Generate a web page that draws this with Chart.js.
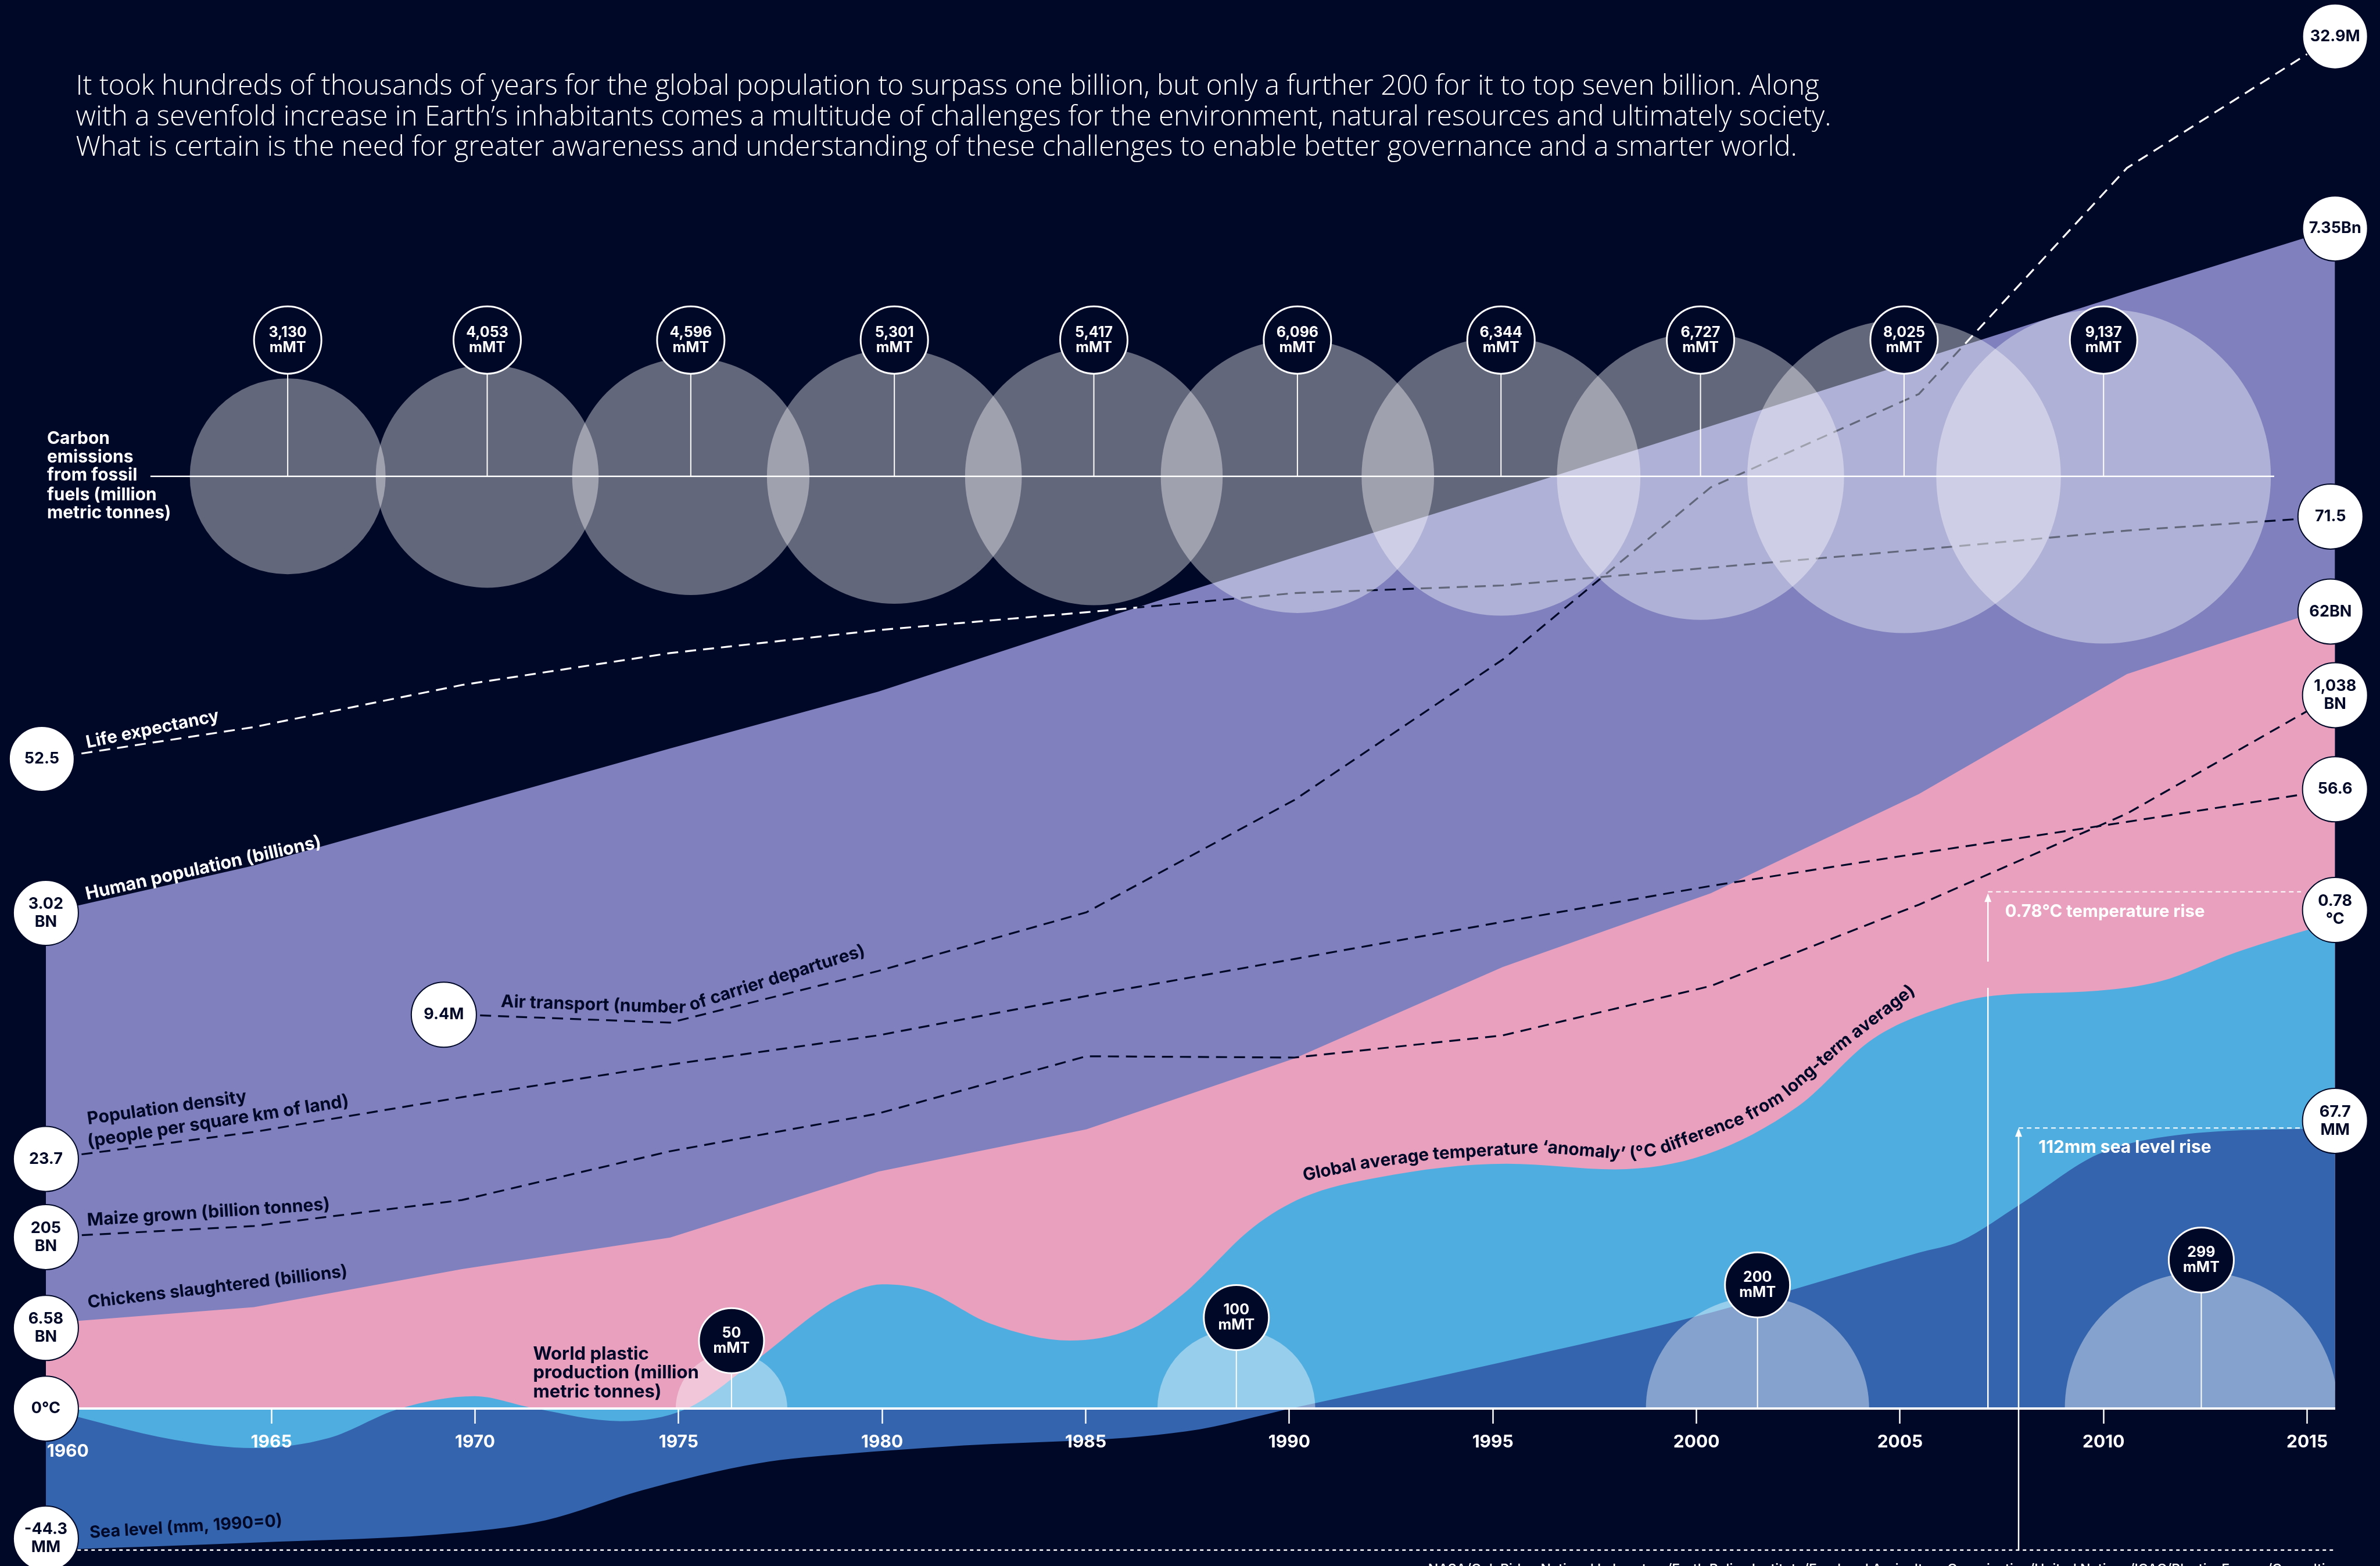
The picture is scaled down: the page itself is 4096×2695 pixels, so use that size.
<!DOCTYPE html>
<html>
<head>
<meta charset="utf-8">
<script src="https://cdn.jsdelivr.net/npm/chart.js@4.4.1/dist/chart.umd.min.js"></script>
<style>
  html, body { margin: 0; padding: 0; background: #000828; }
  canvas { display: block; }
</style>
</head>
<body>
<canvas id="chart" width="4096" height="2695"></canvas>
<script>
var years = [1960, 1965, 1970, 1975, 1980, 1985, 1990, 1995, 2000, 2005, 2010, 2015];
var tickYears = [1960, 1965, 1970, 1975, 1980, 1985, 1990, 1995, 2000, 2005, 2010, 2015];
var population = [3.02, 3.32, 3.69, 4.06, 4.42, 4.85, 5.27, 5.68, 6.10, 6.52, 6.94, 7.35];      // billions
var chickens = [6.58, 7.84, 10.78, 13.21, 18.31, 21.57, 27.05, 34.1, 39.8, 47.46, 56.73, 62];  // billions slaughtered
var lifeExpectancy = [52.5, 55.0, 58.3, 60.8, 62.6, 64.0, 65.5, 66.1, 67.5, 68.9, 70.4, 71.5];
var density = [23.7, 26.1, 29.2, 32.1, 34.7, 38.2, 41.5, 44.8, 48.0, 50.9, 53.7, 56.6];      // people per km2
var maize = [205, 222, 262, 337, 395, 483, 481, 515, 591, 716, 856, 1038];
var airYears = [1970, 1975, 1980, 1985, 1990, 1995, 2000, 2005, 2010, 2015];
var airDepartures = [9.4, 9.21, 10.45, 11.86, 14.56, 17.93, 22.07, 24.31, 29.74, 32.9];   // millions
var tempYears = [1960, 1963.1, 1965.0, 1966.8, 1968.5, 1970.3, 1971.7, 1973.8, 1975.4, 1977.0, 1979.0,
  1980.1, 1981.1, 1982.7, 1984.6, 1986.1, 1987.3, 1989.0, 1990.2, 1992.0, 1995.1, 1997.7, 1999.9,
  2002.1, 2003.9, 2005.7, 2006.8, 2009.3, 2010.8, 2012.6, 2015];
var tempAnomaly = [0, -0.05, -0.063, -0.047, 0, 0.02, 0.001, -0.02, 0, 0.074, 0.174,
  0.199, 0.19, 0.136, 0.109, 0.128, 0.182, 0.29, 0.338, 0.37, 0.392, 0.383, 0.407,
  0.484, 0.592, 0.645, 0.661, 0.669, 0.684, 0.73, 0.78];
var seaYears = [1960, 1965, 1970, 1972, 1974.3, 1977.1, 1979.3, 1981.7, 1987.4, 1990, 1995, 2000,
  2005, 2006, 2007.5, 2009.3, 2011.2, 2015];
var seaLevel = [-44.3, -42.3, -39.6, -36.4, -28.5, -21.3, -18.7, -16.8, -12.8, -6.5, 5.6, 18.7,
  34.6, 37.7, 47.9, 60.7, 65.8, 67.7];
var carbonYears = [1965.4, 1970.3, 1975.3, 1980.3, 1985.2, 1990.2, 1995.2, 2000.1, 2005.1, 2010.0];
var carbon = [3130, 4053, 4596, 5301, 5417, 6096, 6344, 6727, 8025, 9137];   // million metric tonnes
var plasticYears = [1976.3, 1988.7, 2001.5, 2012.4];
var plastic = [50, 100, 200, 299];

var intro = [
  'It took hundreds of thousands of years for the global population to surpass one billion, but only a further 200 for it to top seven billion. Along',
  'with a sevenfold increase in Earth\u2019s inhabitants comes a multitude of challenges for the environment, natural resources and ultimately society.',
  'What is certain is the need for greater awareness and understanding of these challenges to enable better governance and a smarter world.'
];

var BG = '#000828', PURPLE = '#7f80bd', PINK = '#e8a0be', LBLUE = '#50ade0', DBLUE = '#3464ad', WHITE = '#ffffff';
var FONT = 'Inter, "Noto Sans", sans-serif';
var LIGHT = '"Open Sans", Lato, sans-serif';

// layout: measured on a 1568px-wide preview, u converts to canvas px
var u = 4096 / 1568;
var W = 4096, H = 2695;
var AREA_L = 30.2 * u, AREA_R = 1538.4 * u;
var AXIS = 928;

function fitY(v1, p1, v2, p2) {
  var k = (v2 - v1) / ((p2 - p1) * u);
  return { min: v1 + (H - p1 * u) * k, max: v1 - p1 * u * k };
}
function fitX(v1, p1, v2, p2) {
  var k = (v2 - v1) / ((p2 - p1) * u);
  return { min: v1 + (AREA_L - p1 * u) * k, max: v1 + (AREA_R - p1 * u) * k };
}
function hidden(axis, r) { return Object.assign({ type: 'linear', axis: axis, display: false, bounds: 'data' }, r); }
function pts(xs, ys) { return xs.map(function (x, i) { return { x: x, y: ys[i] }; }); }

var seaCal = [-44.3, 1021.2, 67.7, 743.1];
// the dark blue fills up to the chart's base line
var seaBase = seaCal[0] + (AXIS - seaCal[1]) * (seaCal[2] - seaCal[0]) / (seaCal[3] - seaCal[1]);

// dashed line is dark inside the population band and white outside it
function bandColor(yId, xs, vals) {
  return function (c) {
    var chart = c.chart, area = chart.chartArea;
    if (!area || !chart.scales[yId]) return BG;
    var sx = chart.scales.x, sy = chart.scales[yId], sp = chart.scales.yP;
    var prev = null, first = null, cross = [];
    xs.forEach(function (yr, i) {
      var d = sy.getPixelForValue(vals[i]) - sp.getPixelForValue(population[years.indexOf(yr)]);
      if (prev === null) first = d > 0;
      else if ((prev.d > 0) !== (d > 0)) {
        var t = prev.d / (prev.d - d);
        cross.push(sx.getPixelForValue(prev.yr + t * (yr - prev.yr)));
      }
      prev = { yr: yr, d: d };
    });
    var g = chart.ctx.createLinearGradient(area.left, 0, area.right, 0);
    var inside = first;
    var col = function (ins) { return ins ? BG : WHITE; };
    g.addColorStop(0, col(inside));
    cross.forEach(function (px) {
      var f = Math.min(1, Math.max(0, (px - area.left) / (area.right - area.left)));
      g.addColorStop(f, col(inside));
      inside = !inside;
      g.addColorStop(Math.min(1, f + 0.0005), col(inside));
    });
    g.addColorStop(1, col(inside));
    return g;
  };
}

var POP = 0, CHICK = 1, TEMP = 2, SEA = 3, LIFE = 5, AIR = 6, DENS = 7, MAIZE = 8, PLASTIC = 9, CARBON = 10;

function area(data, yId, color, order, fill, smooth) {
  return { type: 'line', data: data, xAxisID: 'x', yAxisID: yId, order: order, fill: fill,
    backgroundColor: color, borderWidth: 0, pointRadius: 0, tension: 0,
    cubicInterpolationMode: smooth ? 'monotone' : 'default' };
}
function dashed(data, yId, color, order) {
  return { type: 'line', data: data, xAxisID: 'x', yAxisID: yId, order: order, fill: false,
    borderColor: color, borderWidth: 3.2, borderDash: [19, 12], pointRadius: 0, tension: 0 };
}

var datasets = [
  area(pts(years, population), 'yP', PURPLE, 20, 'origin'),
  area(pts(years, chickens), 'yC', PINK, 19, 'origin'),
  area(pts(tempYears, tempAnomaly), 'yT', LBLUE, 18, 'origin', true),
  area(pts(seaYears, seaLevel), 'yS', DBLUE, 17, { value: seaBase }, true),
  area(pts(tempYears, tempAnomaly), 'yT', LBLUE, 16, { target: 'origin', above: 'rgba(0,0,0,0)', below: LBLUE }, true),
  dashed(pts(years, lifeExpectancy), 'yL', bandColor('yL', years, lifeExpectancy), 13),
  dashed(pts(airYears, airDepartures), 'yA', bandColor('yA', airYears, airDepartures), 12),
  dashed(pts(years, density), 'yD', BG, 11),
  dashed(pts(years, maize), 'yM', BG, 10),
  { type: 'bubble', data: pts(plasticYears, plastic.map(function () { return 0; })), xAxisID: 'xt', yAxisID: 'yT', order: 5,
    backgroundColor: 'rgba(255,255,255,0.4)', borderWidth: 0,
    radius: function (c) { return 5.2 * u * Math.sqrt(plastic[c.dataIndex]); } },
  { type: 'bubble', data: pts(carbonYears, carbon.map(function () { return 0; })), xAxisID: 'xt', yAxisID: 'yB', order: 4,
    backgroundColor: 'rgba(255,255,255,0.39)', borderWidth: 0,
    radius: function (c) { return 1.153 * u * Math.sqrt(carbon[c.dataIndex]); } }
];

function seg(ctx, x1, y1, x2, y2, color, w, dash) {
  ctx.save();
  ctx.beginPath();
  ctx.strokeStyle = color; ctx.lineWidth = w; ctx.setLineDash(dash || []);
  ctx.moveTo(x1, y1); ctx.lineTo(x2, y2); ctx.stroke();
  ctx.restore();
}
function badge(ctx, x, y, r, lines, dark) {
  ctx.save();
  ctx.beginPath(); ctx.arc(x, y, r, 0, 2 * Math.PI);
  ctx.fillStyle = dark ? BG : WHITE; ctx.fill();
  ctx.lineWidth = dark ? 3 : 2; ctx.strokeStyle = dark ? WHITE : BG; ctx.stroke();
  ctx.fillStyle = dark ? WHITE : BG;
  ctx.font = 'bold ' + (dark ? 25 : 27) + 'px ' + FONT;
  ctx.textAlign = 'center'; ctx.textBaseline = 'middle';
  var lh = dark ? 26 : 31;
  lines.forEach(function (t, i) { ctx.fillText(t, x, y + (i - (lines.length - 1) / 2) * lh); });
  ctx.restore();
}
function fitFont(ctx, text, weight, family, width, lo, hi) {
  ctx.font = weight + ' 100px ' + family;
  var s = 100 * width / ctx.measureText(text).width;
  s = Math.max(lo || 10, Math.min(hi || 200, s));
  return weight + ' ' + s.toFixed(1) + 'px ' + family;
}
function rotLabel(ctx, text, cx, cy, deg, width, color) {
  ctx.save();
  ctx.font = fitFont(ctx, text, 'bold', FONT, width * u, 22, 32);
  ctx.fillStyle = color; ctx.textAlign = 'center'; ctx.textBaseline = 'middle';
  ctx.translate(cx * u, cy * u); ctx.rotate(deg * Math.PI / 180);
  ctx.fillText(text, 0, 0);
  ctx.restore();
}
function pathLabel(ctx, text, path, color) {
  var p = path.map(function (q) { return [q[0] * u, q[1] * u]; });
  var segs = [], total = 0;
  for (var i = 1; i < p.length; i++) {
    var dx = p[i][0] - p[i - 1][0], dy = p[i][1] - p[i - 1][1], len = Math.hypot(dx, dy);
    segs.push({ x: p[i - 1][0], y: p[i - 1][1], dx: dx / len, dy: dy / len, len: len, start: total });
    total += len;
  }
  ctx.save();
  ctx.font = fitFont(ctx, text, 'bold', FONT, total, 22, 32);
  ctx.fillStyle = color; ctx.textAlign = 'center'; ctx.textBaseline = 'middle';
  var s = 0;
  Array.from(text).forEach(function (ch) {
    var w = ctx.measureText(ch).width, m = s + w / 2, sg = segs[segs.length - 1];
    for (var j = 0; j < segs.length; j++) { if (m <= segs[j].start + segs[j].len) { sg = segs[j]; break; } }
    var t = m - sg.start;
    ctx.save();
    ctx.translate(sg.x + sg.dx * t, sg.y + sg.dy * t);
    ctx.rotate(Math.atan2(sg.dy, sg.dx));
    ctx.fillText(ch, 0, 0);
    ctx.restore();
    s += w;
  });
  ctx.restore();
}
function block(ctx, lines, x, ys, widest, width, color) {
  ctx.save();
  ctx.font = fitFont(ctx, widest, 'bold', FONT, width * u, 20, 32);
  ctx.fillStyle = color; ctx.textAlign = 'left'; ctx.textBaseline = 'middle';
  lines.forEach(function (t, i) { ctx.fillText(t, x * u, ys[i] * u); });
  ctx.restore();
}
function arrowHead(ctx, x, y) {
  ctx.save();
  ctx.beginPath(); ctx.moveTo(x, y); ctx.lineTo(x - 6, y + 15); ctx.lineTo(x + 6, y + 15); ctx.closePath();
  ctx.fillStyle = WHITE; ctx.fill();
  ctx.restore();
}

var overlay = {
  id: 'overlay',
  beforeDraw: function (chart) {
    var c = chart.ctx;
    c.save(); c.fillStyle = BG; c.fillRect(0, 0, W, H); c.restore();
  },
  beforeDatasetDraw: function (chart, args) {
    if (args.index !== PLASTIC) return;
    var c = chart.ctx;
    c.save(); c.beginPath(); c.rect(0, 0, W, chart.scales.yT.getPixelForValue(0)); c.clip();
  },
  afterDatasetDraw: function (chart, args) {
    if (args.index === PLASTIC) chart.ctx.restore();
  },
  afterDraw: function (chart) {
    var ctx = chart.ctx, s = chart.scales;
    var axisY = s.yT.getPixelForValue(0);
    var rowY = s.yB.getPixelForValue(0);
    function end(ds, last) { var d = chart.getDatasetMeta(ds).data; return d[last ? d.length - 1 : 0]; }

    // carbon row
    seg(ctx, 99.1 * u, rowY, 1498.3 * u, rowY, WHITE, 2.5);
    chart.getDatasetMeta(CARBON).data.forEach(function (el, i) {
      var ly = 224 * u, r = 58;
      seg(ctx, el.x, ly + r, el.x, rowY, WHITE, 2);
      badge(ctx, el.x, ly, r, [carbon[i].toLocaleString('en-US'), 'mMT'], true);
    });
    // plastic half discs
    chart.getDatasetMeta(PLASTIC).data.forEach(function (el, i) {
      var rr = 5.2 * u * Math.sqrt(plastic[i]), r = 56;
      var ly = axisY - rr - 8 * u;
      seg(ctx, el.x, ly + r, el.x, axisY, WHITE, 2);
      badge(ctx, el.x, ly, r, [String(plastic[i]), 'mMT'], true);
    });

    // temperature rise marker
    var tx = 1309.7 * u;
    seg(ctx, tx, 588.5 * u + 8, tx, 633.5 * u, WHITE, 2.5);
    seg(ctx, tx, 650.8 * u, tx, axisY, WHITE, 2.5);
    arrowHead(ctx, tx, 588.5 * u);
    seg(ctx, tx, 587.5 * u, 1516 * u, 587.5 * u, WHITE, 2, [8, 6]);
    ctx.save();
    ctx.font = fitFont(ctx, '0.78\u00b0C temperature rise', 'bold', FONT, 131.4 * u, 20, 30);
    ctx.fillStyle = WHITE; ctx.textAlign = 'left'; ctx.textBaseline = 'middle';
    ctx.fillText('0.78\u00b0C temperature rise', 1321 * u, 600.8 * u);
    ctx.restore();

    // sea level rise marker
    var sx = 1329.9 * u;
    var seaTop = end(SEA, true).y, seaBot = end(SEA, false).y;
    seg(ctx, sx, seaTop + 8, sx, seaBot, WHITE, 2.5);
    arrowHead(ctx, sx, seaTop);
    seg(ctx, sx, seaTop, 1517 * u, seaTop, WHITE, 2, [8, 6]);
    seg(ctx, 51 * u, seaBot, AREA_R, seaBot, WHITE, 2.5, [6, 6]);
    ctx.save();
    ctx.font = fitFont(ctx, '112mm sea level rise', 'bold', FONT, 115.8 * u, 20, 30);
    ctx.fillStyle = WHITE; ctx.textAlign = 'left'; ctx.textBaseline = 'middle';
    ctx.fillText('112mm sea level rise', 1343 * u, 756 * u);
    ctx.restore();

    // value badges at the ends of each series
    var R = 56;
    var ends = [
      [LIFE, false, [String(lifeExpectancy[0])], -2.7, 0],
      [POP, false, [population[0].toFixed(2), 'BN'], 0, 0],
      [AIR, false, [airDepartures[0] + 'M'], -12, 0],
      [DENS, false, [String(density[0])], 0, 0],
      [MAIZE, false, [String(maize[0]), 'BN'], 0, 0],
      [CHICK, false, [String(chickens[0]), 'BN'], 0, 3],
      [TEMP, false, [tempAnomaly[0] + '\u00b0C'], 0, 0],
      [SEA, false, [String(seaLevel[0]), 'MM'], 0, -7.6],
      [AIR, true, [airDepartures[airDepartures.length - 1] + 'M'], 0, 0],
      [POP, true, [population[population.length - 1] + 'Bn'], 0, 0],
      [LIFE, true, [String(lifeExpectancy[lifeExpectancy.length - 1])], -3, 0],
      [CHICK, true, [chickens[chickens.length - 1] + 'BN'], -3, 3.8],
      [MAIZE, true, [maize[maize.length - 1].toLocaleString('en-US'), 'BN'], 0, 0],
      [DENS, true, [String(density[density.length - 1])], 0, 0],
      [TEMP, true, [String(tempAnomaly[tempAnomaly.length - 1]), '\u00b0C'], 0, -7.5],
      [SEA, true, [String(seaLevel[seaLevel.length - 1]), 'MM'], 0, -4.7]
    ];
    ends.forEach(function (e) {
      var p = end(e[0], e[1]);
      badge(ctx, p.x + e[3] * u, p.y + e[4] * u, R, e[2], false);
    });

    // series names
    rotLabel(ctx, 'Life expectancy', 100.5, 480.5, -11.6, 89.2, WHITE);
    rotLabel(ctx, 'Human population (billions)', 134, 572, -12.6, 158.7, WHITE);
    rotLabel(ctx, 'Population density', 110, 729.9, -8.1, 106, BG);
    rotLabel(ctx, '(people per square km of land)', 143.7, 738.9, -8.9, 174.5, BG);
    rotLabel(ctx, 'Maize grown (billion tonnes)', 137.4, 798.8, -3.8, 160.3, BG);
    rotLabel(ctx, 'Chickens slaughtered (billions)', 143.3, 848, -6.9, 172.5, BG);
    rotLabel(ctx, 'Sea level (mm, 1990=0)', 122.5, 1006, -3.5, 127.4, BG);
    pathLabel(ctx, 'Air transport (number of carrier departures)', [[330, 660], [450, 664], [570, 626]], BG);
    pathLabel(ctx, 'Global average temperature \u2018anomaly\u2019 (\u00b0C difference from long-term average)',
      [[858.5, 774.7], [895.9, 766.8], [943.4, 760.5], [1015.9, 755.8], [1073.3, 760.5], [1093.3, 757.3],
       [1148.3, 736.8], [1173.3, 722.5], [1213.2, 687.7], [1258.2, 652.9]], BG);
    block(ctx, ['World plastic', 'production (million', 'metric tonnes)'], 351.2, [892.1, 904.6, 917.0],
      'production (million', 109.3, BG);
    block(ctx, ['Carbon', 'emissions', 'from fossil', 'fuels (million', 'metric tonnes)'], 31,
      [289.2, 301.2, 313.2, 326.0, 338.0], 'metric tonnes)', 81.6, WHITE);

    // intro paragraph
    ctx.save();
    ctx.font = fitFont(ctx, intro[0], '300', LIGHT, 1149 * u, 20, 60);
    ctx.fillStyle = WHITE; ctx.textAlign = 'left'; ctx.textBaseline = 'alphabetic';
    intro.forEach(function (t, i) { ctx.fillText(t, 50 * u, (62.5 + 20 * i) * u); });
    ctx.restore();

    // sources (cut by the bottom edge, as in the original)
    ctx.save();
    var src = 'NASA/Oak Ridge National Laboratory/Earth Policy Institute/Food and Agriculture Organization/United Nations/ICAO/PlasticsEurope/Consultic';
    ctx.font = fitFont(ctx, src, '500', FONT, 596 * u, 12, 30);
    ctx.fillStyle = WHITE; ctx.textAlign = 'right'; ctx.textBaseline = 'top';
    ctx.fillText(src, 1537 * u, 1029.5 * u);
    ctx.restore();
  }
};

new Chart(document.getElementById('chart'), {
  type: 'line',
  data: { datasets: datasets },
  options: {
    responsive: false,
    devicePixelRatio: 1,
    animation: false,
    events: [],
    layout: { autoPadding: false, padding: { left: AREA_L, right: W - AREA_R, top: 0, bottom: 0 } },
    plugins: { legend: { display: false }, tooltip: { enabled: false } },
    scales: {
      x: hidden('x', { min: 1960, max: 2015 }),
      xt: Object.assign({
        type: 'linear', axis: 'x', bounds: 'data', position: { yT: 0 },
        grid: { z: 5, drawOnChartArea: false, drawTicks: true, tickLength: 24, tickWidth: 2.5, tickColor: WHITE, color: WHITE },
        border: { z: 5, display: true, color: WHITE, width: 4 },
        ticks: { z: 5, color: WHITE, padding: 16, maxRotation: 0, autoSkip: false,
          // the first year label sits a little lower, clear of the 0°C badge
          font: function (c) {
            return { family: FONT, size: 30, weight: 'bold', lineHeight: c.index === 0 ? 0.76 : 1.2 };
          },
          callback: function (v, i) { return i === 0 ? ['', String(v)] : String(v); } },
        afterBuildTicks: function (a) { a.ticks = tickYears.map(function (v) { return { value: v }; }); }
      }, fitX(1960, 44.7, 2015, 1520)),
      yP: hidden('y', fitY(3.02, 601.4, 7.35, 150.5)),
      yC: hidden('y', fitY(0, AXIS, 62, 399.1)),
      yT: hidden('y', fitY(0, AXIS, 0.78, 607)),
      yS: hidden('y', fitY(seaCal[0], seaCal[1], seaCal[2], seaCal[3])),
      yL: hidden('y', fitY(52.5, 500, 71.5, 340.3)),
      yA: hidden('y', fitY(9.4, 668.5, 32.9, 24)),
      yD: hidden('y', fitY(23.7, 763.5, 56.6, 520)),
      yM: hidden('y', fitY(205, 815, 1038, 458)),
      yB: hidden('y', fitY(0, 313.8, 1, 0))
    }
  },
  plugins: [overlay]
});
</script>
</body>
</html>
